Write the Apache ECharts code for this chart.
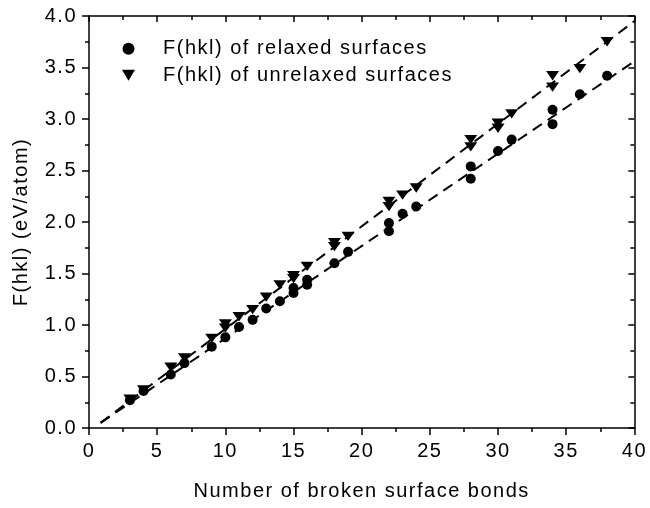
<!DOCTYPE html>
<html>
<head>
<meta charset="utf-8">
<script src="https://cdn.jsdelivr.net/npm/echarts@6/dist/echarts.min.js"></script>
<style>html,body{margin:0;padding:0;background:#fff}#c{width:650px;height:508px}</style>
</head>
<body>
<div id="c"></div>
<script>
// Relaxed surfaces (circles)
const relaxedX = [3, 4, 6, 7, 9, 10, 11, 12, 13, 14, 15, 15, 16, 16, 18, 19, 22, 22, 23, 24, 28, 28, 30, 31, 34, 34, 36, 38];
const relaxedY = [0.27, 0.36, 0.52, 0.63, 0.79, 0.88, 0.98, 1.05, 1.16, 1.23, 1.31, 1.36, 1.39, 1.44, 1.60, 1.71, 1.91, 1.99, 2.08, 2.15, 2.42, 2.54, 2.69, 2.80, 2.95, 3.09, 3.24, 3.42];
// Unrelaxed surfaces (down triangles)
const unrelaxedX = [3, 4, 6, 7, 9, 10, 10, 11, 12, 13, 14, 15, 15, 16, 18, 18, 19, 22, 22, 23, 24, 28, 28, 30, 30, 31, 34, 34, 36, 38];
const unrelaxedY = [0.28, 0.37, 0.59, 0.68, 0.87, 0.97, 1.01, 1.08, 1.15, 1.27, 1.39, 1.45, 1.48, 1.57, 1.76, 1.80, 1.86, 2.15, 2.20, 2.26, 2.33, 2.73, 2.80, 2.91, 2.96, 3.05, 3.31, 3.42, 3.49, 3.75];
// Linear fit lines (endpoints)
const fitUnrelaxedX = [0.85, 40];
const fitUnrelaxedY = [0.05, 3.95];
const fitRelaxedX = [0.85, 40];
const fitRelaxedY = [0.05, 3.56];
// Axis settings
const xRange = [0, 40];
const yRange = [0, 4];
const seriesNames = ['F(hkl) of relaxed surfaces', 'F(hkl) of unrelaxed surfaces'];

// slightly wider text spacing like the reference rendering
(function () {
  const P = CanvasRenderingContext2D.prototype;
  if (!('letterSpacing' in P)) return;
  const of = P.fillText, om = P.measureText;
  P.fillText = function () { this.letterSpacing = '1.5px'; return of.apply(this, arguments); };
  P.measureText = function () { this.letterSpacing = '1.5px'; return om.apply(this, arguments); };
})();

const zip = (a, b) => a.map((v, i) => [v, b[i]]);
const font = 'Liberation Sans, Arial, sans-serif';
const FS = 20;
const downTri = 'path://M0,0 L13,0 L6.5,11 Z';

const chart = echarts.init(document.getElementById('c'), null, {renderer: 'canvas'});

const baseAxis = {
  axisLine: {show: true, onZero: false, lineStyle: {color: '#000', width: 1.5}},
  splitLine: {show: false},
};
const tickStyle = {color: '#000', width: 1.5};

chart.setOption({
  animation: false,
  backgroundColor: '#fff',
  grid: {left: 89, right: 13, top: 16, bottom: 80, containLabel: false},
  legend: {
    show: true,
    left: 117, top: 33,
    orient: 'vertical',
    itemGap: 5,
    itemWidth: 13, itemHeight: 12,
    symbolKeepAspect: true,
    textStyle: {fontFamily: font, fontSize: FS, lineHeight: 20, color: '#000', padding: [0, 0, 0, 23]},
    data: [
      {name: seriesNames[0], icon: 'circle', itemStyle: {color: '#000', opacity: 1}},
      {name: seriesNames[1], icon: downTri, itemStyle: {color: '#000', opacity: 1}}
    ]
  },
  xAxis: [
    Object.assign({}, baseAxis, {
      type: 'value', position: 'bottom', min: xRange[0], max: xRange[1], interval: 5,
      name: 'Number of broken surface bonds', nameLocation: 'middle', nameGap: 53,
      nameTextStyle: {fontFamily: font, fontSize: FS, color: '#000'},
      axisTick: {show: true, inside: false, length: 7, lineStyle: tickStyle},
      minorTick: {show: true, splitNumber: 2, length: 4, lineStyle: tickStyle},
      axisLabel: {fontFamily: font, fontSize: FS, color: '#000', margin: 13}
    }),
    Object.assign({}, baseAxis, {
      type: 'value', position: 'top', min: xRange[0], max: xRange[1], interval: 5,
      axisTick: {show: true, inside: true, length: 6, lineStyle: tickStyle},
      minorTick: {show: true, splitNumber: 2, length: 4, lineStyle: tickStyle},
      axisLabel: {show: false}
    })
  ],
  yAxis: [
    Object.assign({}, baseAxis, {
      type: 'value', position: 'left', min: yRange[0], max: yRange[1], interval: 0.5,
      name: 'F(hkl) (eV/atom)', nameLocation: 'middle', nameGap: 57,
      nameTextStyle: {fontFamily: font, fontSize: FS, color: '#000'},
      axisTick: {show: true, inside: false, length: 7, lineStyle: tickStyle},
      minorTick: {show: true, splitNumber: 2, length: 4, lineStyle: tickStyle},
      axisLabel: {fontFamily: font, fontSize: FS, color: '#000', margin: 12, formatter: v => v.toFixed(1)}
    }),
    Object.assign({}, baseAxis, {
      type: 'value', position: 'right', min: yRange[0], max: yRange[1], interval: 0.5,
      axisTick: {show: true, inside: true, length: 6, lineStyle: tickStyle},
      minorTick: {show: true, splitNumber: 2, length: 4, lineStyle: tickStyle},
      axisLabel: {show: false}
    })
  ],
  series: [
    {
      name: 'fitU', type: 'line', data: zip(fitUnrelaxedX, fitUnrelaxedY), showSymbol: false, symbol: 'none',
      lineStyle: {color: '#000', width: 2, type: [11, 7]}, z: 1, silent: true
    },
    {
      name: 'fitR', type: 'line', data: zip(fitRelaxedX, fitRelaxedY), showSymbol: false, symbol: 'none',
      lineStyle: {color: '#000', width: 2, type: [11, 7]}, z: 1, silent: true
    },
    {
      name: seriesNames[0], type: 'scatter', data: zip(relaxedX, relaxedY),
      symbol: 'circle', symbolSize: 10, itemStyle: {color: '#000', opacity: 1}, z: 3
    },
    {
      name: seriesNames[1], type: 'scatter', data: zip(unrelaxedX, unrelaxedY),
      symbol: downTri, symbolKeepAspect: true, symbolSize: [13, 11], itemStyle: {color: '#000', opacity: 1}, z: 3
    }
  ]
});
</script>
</body>
</html>
